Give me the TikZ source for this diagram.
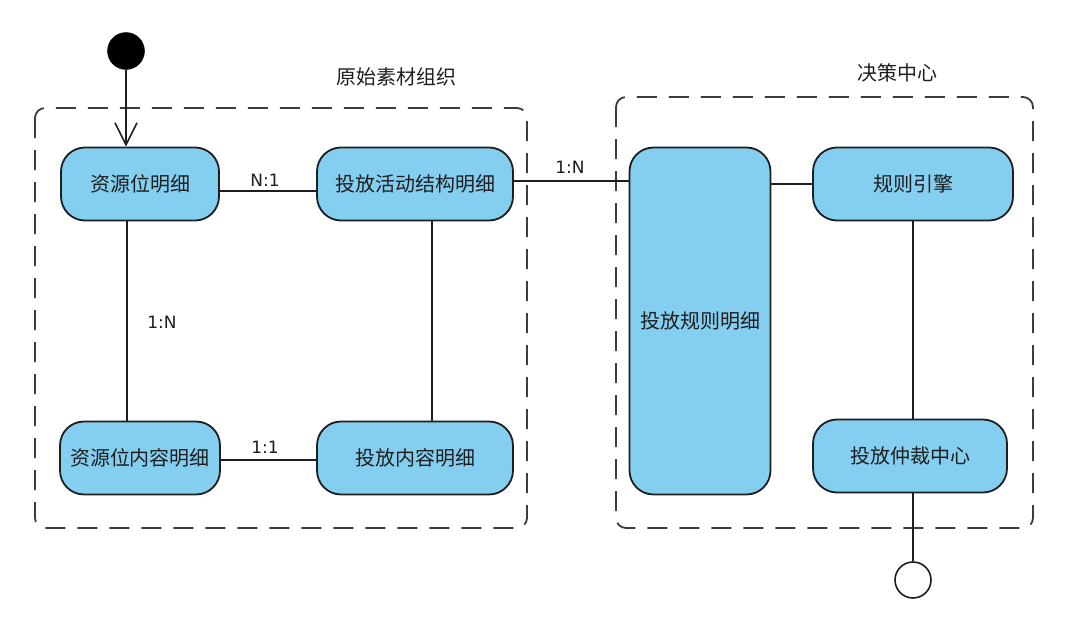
\documentclass[tikz,border=0pt]{standalone}
\usepackage{fontspec}
\setmainfont{Noto Sans CJK SC}
\newfontfamily\labfont{DejaVu Sans}
\usetikzlibrary{arrows.meta}
\definecolor{boxfill}{RGB}{132,206,240}
\definecolor{boxline}{RGB}{30,30,30}
\definecolor{dashcol}{RGB}{60,60,60}
\begin{document}
\begin{tikzpicture}[x=1pt,y=-1pt,
  statebox/.style={draw=boxline,fill=boxfill,line width=1.8pt,rounded corners=24pt,
    minimum width=#1,minimum height=73pt,inner sep=0pt,font=\fontsize{20}{23}\selectfont,text=boxline},
  statebox/.default=158pt,
  group/.style={draw=dashcol,line width=1.8pt,dash pattern=on 20pt off 12pt,rounded corners=10pt},
  conn/.style={draw=boxline,line width=1.6pt},
  rel/.style={font=\labfont\fontsize{17}{20}\selectfont,text=boxline,inner sep=0pt},
  title/.style={font=\fontsize{20}{23}\selectfont,text=boxline,inner sep=0pt}]
\useasboundingbox (0,0) rectangle (1080,629);
% groups
\draw[group] (35,108) rectangle (527,528);
\draw[group] (616,97) rectangle (1033,528);
\node[title] (t1) at (396,77) {原始素材组织};
\node[title] (t2) at (897,73) {决策中心};
% states
\node[statebox=158pt] (b1) at (140,184) {资源位明细};
\node[statebox=196pt] (b2) at (415,184) {投放活动结构明细};
\node[statebox=160pt] (b3) at (140,458) {资源位内容明细};
\node[statebox=196pt] (b4) at (415,458) {投放内容明细};
\node[draw=boxline,fill=boxfill,line width=1.8pt,rounded corners=24pt,minimum width=141pt,minimum height=347pt,inner sep=0pt,font=\fontsize{20}{23}\selectfont,text=boxline] (b5) at (700,321) {投放规则明细};
\node[statebox=200pt] (b6) at (913,184) {规则引擎};
\node[statebox=194pt] (b7) at (910,456) {投放仲裁中心};
% start / end
\node[circle,fill=black,draw=black,minimum size=37pt,inner sep=0pt] (start) at (126,51) {};
\node[circle,fill=white,draw=boxline,line width=1.6pt,minimum size=36pt,inner sep=0pt] (end) at (913,580) {};
% connectors
\draw[conn,-{Straight Barb[length=22pt,width=22pt,line width=1.6pt]}] (start) -- (start |- b1.north);
\draw[conn] ([yshift=-7pt]b1.east) -- ([yshift=-7pt]b2.west);
\draw[conn] ([yshift=3pt]b2.east) -- ([yshift=3pt]b2.east -| b5.west);
\draw[conn] (b6.west -| b5.east) -- (b6.west);
\draw[conn] ([xshift=-13pt]b1.south) -- ([xshift=-13pt]b3.north);
\draw[conn] ([xshift=17pt]b2.south) -- ([xshift=17pt]b4.north);
\draw[conn] ([yshift=-2pt]b3.east) -- ([yshift=-2pt]b4.west);
\draw[conn] (b6.south) -- (b6.south |- b7.north);
\draw[conn] (b6.south |- b7.south) -- (end);
% relation labels
\node[rel] (l1) at (265,180) {N:1};
\node[rel] (l2) at (570,167) {1:N};
\node[rel] (l3) at (162,322) {1:N};
\node[rel] (l4) at (265,447) {1:1};
\end{tikzpicture}
\end{document}
